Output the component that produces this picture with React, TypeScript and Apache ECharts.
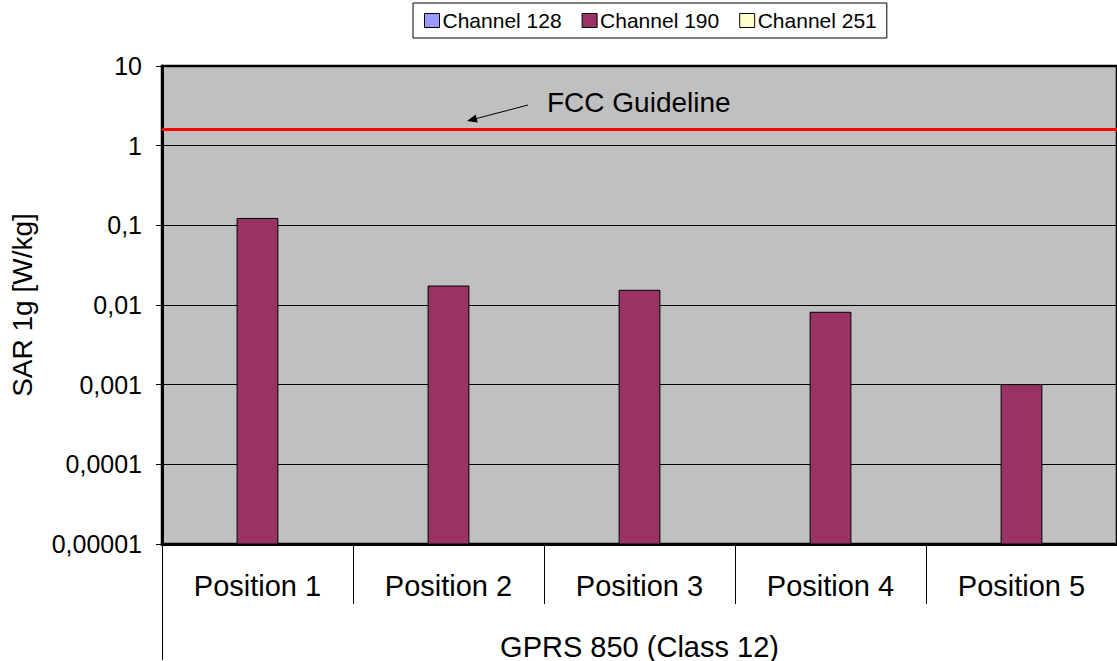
import React, { useEffect, useRef } from "react";
import * as echarts from "echarts";

const categories = ["Position 1", "Position 2", "Position 3", "Position 4", "Position 5"];
const groupLabel = ["GPRS 850 (Class 12)"];
const seriesNames = ["Channel 128", "Channel 190", "Channel 251"];
const channel128: (number | null)[] = [null, null, null, null, null];
const channel190: (number | null)[] = [0.122, 0.0173, 0.0153, 0.0081, 0.001];
const channel251: (number | null)[] = [null, null, null, null, null];
const seriesColors = ["#9999FF", "#993366", "#FFFFCC"];
const fccLimit = 1.6;
const yTickValues = [0.00001, 0.0001, 0.001, 0.01, 0.1, 1, 10];
const yTickLabels = ["0,00001", "0,0001", "0,001", "0,01", "0,1", "1", "10"];

const FONT = "Liberation Sans, Arial, sans-serif";
const BAR_FRACTION = 0.2135;

export default function App() {
  const ref = useRef<HTMLDivElement>(null);
  useEffect(() => {
    if (!ref.current) return;
    const chart = echarts.init(ref.current, null, { renderer: "svg" });
    const data = [channel128, channel190, channel251];
    const yMin = yTickValues[0];
    const labelFor = (v: number) => {
      const lv = Math.log10(v);
      let best = 0;
      let bd = Infinity;
      yTickValues.forEach((t, i) => {
        const d = Math.abs(Math.log10(t) - lv);
        if (d < bd) { bd = d; best = i; }
      });
      return yTickLabels[best];
    };
    const makeRender = (si: number) => (params: any, api: any) => {
      const ci = api.value(0);
      const v = api.value(1);
      const top = api.coord([ci, v]);
      const base = api.coord([ci, yMin]);
      const band = api.size([1, 0])[0];
      const w = band * BAR_FRACTION;
      const cx = top[0] + (si - 1) * w;
      return {
        type: "rect",
        shape: { x: cx - w / 2, y: top[1], width: w, height: base[1] - top[1] },
        style: { fill: seriesColors[si], stroke: "#000", lineWidth: 1 },
      };
    };
    chart.setOption({
      animation: false,
      textStyle: { fontFamily: FONT },
      legend: {
        left: 413,
        top: 3,
        data: seriesNames,
        backgroundColor: "#fff",
        borderColor: "#000",
        borderWidth: 1,
        padding: [7, 10, 7, 11],
        itemGap: 20,
        itemWidth: 15,
        itemHeight: 14,
        icon: "rect",
        textStyle: { fontSize: 21, color: "#000", fontFamily: FONT, padding: [0, 0, 0, -2] },
        itemStyle: { borderColor: "#000", borderWidth: 1 },
      },
      grid: {
        left: 160,
        top: 66,
        right: -3,
        bottom: 116,
        show: true,
        backgroundColor: "#C0C0C0",
        borderColor: "#000",
        borderWidth: 2.5,
        containLabel: false,
      },
      xAxis: [
        {
          type: "category",
          data: categories,
          position: "bottom",
          axisLine: { show: true, lineStyle: { color: "#000", width: 3 } },
          axisTick: { show: true, interval: 0, length: 60, lineStyle: { color: "#000", width: 1 } },
          axisLabel: { interval: 0, margin: 27, fontSize: 29, color: "#000", fontFamily: FONT },
          splitLine: { show: false },
        },
        {
          type: "category",
          data: groupLabel,
          position: "bottom",
          axisLine: { show: false },
          axisTick: { show: true, interval: 0, length: 116, lineStyle: { color: "#000", width: 1 } },
          axisLabel: { interval: 0, margin: 88, fontSize: 29, color: "#000", fontFamily: FONT },
          splitLine: { show: false },
        },
      ],
      yAxis: {
        type: "log",
        logBase: 10,
        min: yMin,
        max: yTickValues[yTickValues.length - 1],
        name: "SAR 1g [W/kg]",
        nameLocation: "middle",
        nameGap: 126,
        nameRotate: 90,
        nameTextStyle: { fontSize: 28, color: "#000", fontFamily: FONT },
        axisLine: { show: true, lineStyle: { color: "#000", width: 3 } },
        axisTick: { show: true, length: 6, lineStyle: { color: "#000", width: 1 } },
        axisLabel: {
          fontSize: 25,
          color: "#000",
          margin: 20,
          fontFamily: FONT,
          formatter: (v: number) => labelFor(v),
        },
        splitLine: { show: true, lineStyle: { color: "#000", width: 1 } },
      },
      series: seriesNames.map((name, i) => ({
        name,
        type: "custom",
        xAxisIndex: 0,
        yAxisIndex: 0,
        itemStyle: { color: seriesColors[i], borderColor: "#000", borderWidth: 1 },
        renderItem: makeRender(i),
        encode: { x: 0, y: 1 },
        data: data[i]
          .map((v, ci) => (v === null ? null : [ci, v]))
          .filter((d) => d !== null),
        markLine:
          i === 1
            ? {
                silent: true,
                symbol: "none",
                label: { show: false },
                lineStyle: { color: "#FF0000", width: 3, type: "solid" },
                data: [{ yAxis: fccLimit }],
              }
            : undefined,
      })),
      graphic: [
        {
          type: "text",
          x: 547,
          y: 102,
          style: {
            text: "FCC Guideline",
            fontSize: 28,
            fill: "#000",
            fontFamily: FONT,
            verticalAlign: "middle",
            align: "left",
          },
          z: 10,
        },
        {
          type: "line",
          shape: { x1: 528, y1: 105, x2: 476.7, y2: 118.5 },
          style: { stroke: "#000", lineWidth: 1 },
          z: 10,
        },
        {
          type: "polygon",
          shape: { points: [[467, 121], [477.7, 122.4], [475.7, 114.6]] },
          style: { fill: "#000" },
          z: 10,
        },
      ],
    });
    return () => chart.dispose();
  }, []);
  return (
    <div
      ref={ref}
      style={{ position: "fixed", left: 0, top: 0, width: 1117, height: 661, background: "#fff" }}
    />
  );
}
